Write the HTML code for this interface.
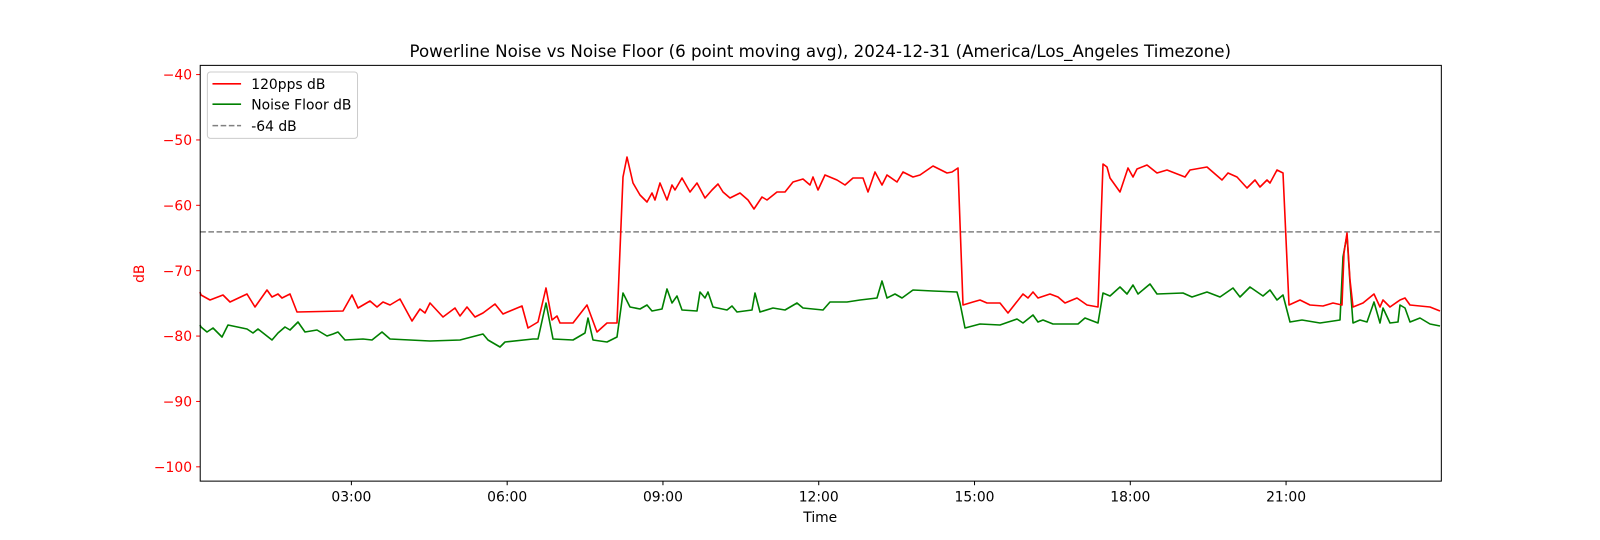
<!DOCTYPE html>
<html><head><meta charset="utf-8"><style>
html,body{margin:0;padding:0;background:#fff;overflow:hidden;width:100%;height:100%;}
svg{display:block;position:fixed;left:0;top:0;width:100vw;height:100vh;}
svg text{font-family:"DejaVu Sans","Liberation Sans",sans-serif;}
</style></head><body>
<svg viewBox="0 0 1600 540" preserveAspectRatio="none" xmlns="http://www.w3.org/2000/svg">
<rect width="1600" height="540" fill="#fff"/>
<g transform="scale(1.0215)">
<text x="803" y="56" font-size="16.3" text-anchor="middle" fill="#000">Powerline Noise vs Noise Floor (6 point moving avg), 2024-12-31 (America/Los_Angeles Timezone)</text>
<g stroke="red" stroke-width="1">
<line x1="192" y1="73" x2="196" y2="73"/><line x1="192" y1="137" x2="196" y2="137"/><line x1="192" y1="201" x2="196" y2="201"/><line x1="192" y1="265" x2="196" y2="265"/><line x1="192" y1="329" x2="196" y2="329"/><line x1="192" y1="393" x2="196" y2="393"/><line x1="192" y1="457" x2="196" y2="457"/>
</g>
<g font-size="13.6" fill="red" text-anchor="end">
<text x="188" y="78">−40</text><text x="188" y="142">−50</text><text x="188" y="206">−60</text><text x="188" y="270">−70</text><text x="188" y="334">−80</text><text x="188" y="398">−90</text><text x="188" y="462">−100</text>
</g>
<text transform="translate(141,268) rotate(-90)" font-size="13.6" fill="red" text-anchor="middle">dB</text>
<g stroke="#000" stroke-width="1">
<line x1="344" y1="471" x2="344" y2="475"/><line x1="496.5" y1="471" x2="496.5" y2="475"/><line x1="649" y1="471" x2="649" y2="475"/><line x1="801.5" y1="471" x2="801.5" y2="475"/><line x1="954" y1="471" x2="954" y2="475"/><line x1="1106.5" y1="471" x2="1106.5" y2="475"/><line x1="1259" y1="471" x2="1259" y2="475"/>
</g>
<g font-size="13.6" fill="#000" text-anchor="middle">
<text x="344" y="491">03:00</text><text x="496.5" y="491">06:00</text><text x="649" y="491">09:00</text><text x="801.5" y="491">12:00</text><text x="954" y="491">15:00</text><text x="1106.5" y="491">18:00</text><text x="1259" y="491">21:00</text>
</g>
<text x="803" y="511" font-size="13.6" text-anchor="middle">Time</text>
<line x1="196" y1="227" x2="1411" y2="227" stroke="#808080" stroke-width="1.5" stroke-dasharray="5.5,2.5"/>
</g>
<polyline fill="none" stroke="green" stroke-width="1.6" stroke-linejoin="round" points="200,325 201,327 207,332 213,328 222,337 228,325 247,329 253,333 258,329 272,340 278,333 285,327 290,330 298,322 305,332 317,330 327,336 333,334 338,332 345,340 363,339 372,340 382,332 390,339 410,340 430,341 460,340 483,334 488,340 500,347 505,342 533,339 538,339 546,303 553,339 573,340 585,333 588,318 593,340 607,342 617,337 623,293 630,307 640,309 647,305 652,311 662,309 667,289 672,303 677,296 682,310 697,311 700,292 705,298 708,292 713,307 727,310 732,306 737,312 752,310 755,293 760,312 773,308 785,310 797,303 803,308 823,310 830,302 847,302 860,300 877,298 882,281 887,298 895,294 902,298 913,290 933,291 957,292 960,303 965,328 980,324 1000,325 1017,319 1023,323 1033,315 1038,322 1043,320 1053,324 1078,324 1085,318 1098,323 1103,293 1110,296 1120,287 1127,294 1133,285 1138,294 1150,284 1157,294 1183,293 1192,297 1207,292 1220,297 1233,288 1240,297 1250,287 1263,296 1270,290 1277,300 1283,295 1290,322 1302,320 1320,323 1340,320 1343,257 1347,235 1350,283 1353,323 1360,320 1367,322 1374,302 1380,323 1383,308 1390,323 1398,322 1400,305 1405,308 1410,322 1420,318 1430,324 1440,326"/>
<polyline fill="none" stroke="red" stroke-width="1.6" stroke-linejoin="round" points="200,292 201,295 210,300 223,295 230,302 247,294 255,307 267,290 272,297 278,294 282,298 290,294 297,312 343,311 352,295 358,308 370,301 377,307 383,302 390,305 400,299 412,321 420,309 425,313 430,303 443,317 455,308 460,316 467,307 475,317 483,313 495,304 503,314 510,311 522,306 528,328 538,322 546,288 552,320 557,316 560,323 573,323 587,305 597,332 607,323 617,323 623,177 627,157 633,183 640,195 647,202 652,193 655,200 660,183 667,200 672,185 675,190 682,178 690,192 697,183 705,198 712,190 718,184 723,192 730,198 740,193 748,200 754,209 762,197 767,200 777,192 785,192 793,182 803,179 810,185 813,177 818,190 825,175 837,180 845,185 853,178 863,178 868,192 875,172 882,185 887,175 897,182 903,172 913,177 920,175 933,166 947,173 952,172 958,168 963,305 973,302 980,300 987,303 1000,303 1008,313 1023,294 1028,298 1033,292 1038,298 1050,294 1058,297 1065,303 1077,298 1087,305 1098,307 1103,164 1107,167 1110,178 1120,192 1128,168 1133,177 1137,169 1147,165 1157,173 1167,170 1185,177 1190,170 1207,167 1222,180 1228,173 1237,177 1247,188 1255,180 1260,187 1267,180 1270,183 1277,170 1283,173 1289,305 1300,300 1310,305 1323,306 1333,303 1342,305 1344,253 1347,233 1350,280 1353,307 1363,303 1374,294 1380,307 1383,300 1390,307 1400,300 1405,298 1410,305 1420,306 1430,307 1440,311"/>
<g transform="scale(1.0215)">
<rect x="196" y="64" width="1215" height="407" fill="none" stroke="#000" stroke-width="1"/>
<rect x="203" y="70.5" width="147" height="65" rx="3" fill="#fff" fill-opacity="0.8" stroke="#ccc" stroke-width="1"/>
<line x1="208" y1="82" x2="236" y2="82" stroke="red" stroke-width="1.6"/>
<line x1="208" y1="102" x2="236" y2="102" stroke="green" stroke-width="1.6"/>
<line x1="208" y1="123" x2="236" y2="123" stroke="#808080" stroke-width="1.5" stroke-dasharray="5.5,2.5"/>
<g font-size="13.6" fill="#000">
<text x="246" y="87">120pps dB</text><text x="246" y="107">Noise Floor dB</text><text x="246" y="128">-64 dB</text>
</g>
</g>
</svg>
</body></html>
